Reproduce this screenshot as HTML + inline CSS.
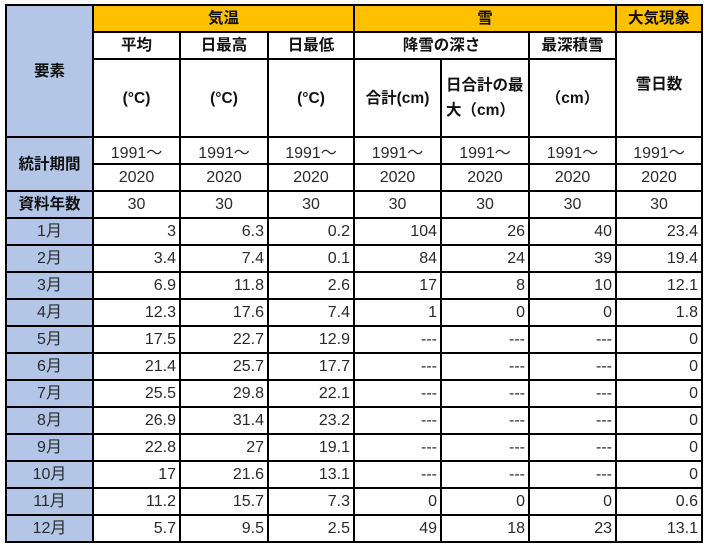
<!DOCTYPE html>
<html><head><meta charset="utf-8">
<style>
*{margin:0;padding:0;box-sizing:border-box}
html,body{width:707px;height:545px;background:#fff;overflow:hidden}
body{position:relative;font-family:"Liberation Sans","Noto Sans CJK JP",sans-serif;color:#2a2a2a}
.bg{position:absolute}
.l{position:absolute;background:#000}
.t{position:absolute;display:flex;align-items:center;justify-content:center;text-align:center;font-size:15.5px;font-weight:bold;color:#111;line-height:25px}
.n{position:absolute;display:flex;align-items:center;justify-content:center;font-size:16px;color:#2a2a2a}
.r{position:absolute;left:0;width:707px;height:27px}
.r span{position:absolute;top:0;height:27px;line-height:27px;text-align:right;padding-right:4px;font-size:16px;color:#2a2a2a}
.r .a{left:6px;width:87px;text-align:center;padding-right:0}
.b{left:93px;width:87px}.c{left:180px;width:88px}.d{left:268px;width:86px}
.e{left:354px;width:87px}.f{left:441px;width:88px}.g{left:529px;width:87px}.h{left:616px;width:86px}
</style></head><body>
<div class="bg" style="left:6px;top:5px;width:87px;height:537px;background:#B4C6E7"></div>
<div class="bg" style="left:93px;top:5px;width:609px;height:27px;background:#FFC000"></div>

<!-- header text -->
<div class="t" style="left:6px;top:5px;width:87px;height:132px">要素</div>
<div class="t" style="left:93px;top:5px;width:261px;height:27px">気温</div>
<div class="t" style="left:354px;top:5px;width:262px;height:27px">雪</div>
<div class="t" style="left:616px;top:5px;width:86px;height:27px">大気現象</div>
<div class="t" style="left:93px;top:32px;width:87px;height:27px">平均</div>
<div class="t" style="left:180px;top:32px;width:88px;height:27px">日最高</div>
<div class="t" style="left:268px;top:32px;width:86px;height:27px">日最低</div>
<div class="t" style="left:354px;top:32px;width:175px;height:27px">降雪の深さ</div>
<div class="t" style="left:529px;top:32px;width:87px;height:27px">最深積雪</div>
<div class="t" style="left:616px;top:32px;width:86px;height:105px">雪日数</div>
<div class="t" style="left:93px;top:59px;width:87px;height:78px">(°C)</div>
<div class="t" style="left:180px;top:59px;width:88px;height:78px">(°C)</div>
<div class="t" style="left:268px;top:59px;width:86px;height:78px">(°C)</div>
<div class="t" style="left:354px;top:59px;width:87px;height:78px">合計(cm)</div>
<div class="t" style="left:441px;top:59px;width:88px;height:78px;justify-content:flex-start;text-align:left;padding-left:5px">日合計の最<br>大（cm）</div>
<div class="t" style="left:529px;top:59px;width:87px;height:78px">（cm）</div>
<div class="t" style="left:6px;top:137px;width:87px;height:54px">統計期間</div>
<div class="t" style="left:6px;top:191px;width:87px;height:27px">資料年数</div>

<div class="n" style="left:93px;top:137px;width:87px;height:27px">1991～</div>
<div class="n" style="left:180px;top:137px;width:88px;height:27px">1991～</div>
<div class="n" style="left:268px;top:137px;width:86px;height:27px">1991～</div>
<div class="n" style="left:354px;top:137px;width:87px;height:27px">1991～</div>
<div class="n" style="left:441px;top:137px;width:88px;height:27px">1991～</div>
<div class="n" style="left:529px;top:137px;width:87px;height:27px">1991～</div>
<div class="n" style="left:616px;top:137px;width:86px;height:27px">1991～</div>

<div class="n" style="left:93px;top:164px;width:87px;height:27px">2020</div>
<div class="n" style="left:180px;top:164px;width:88px;height:27px">2020</div>
<div class="n" style="left:268px;top:164px;width:86px;height:27px">2020</div>
<div class="n" style="left:354px;top:164px;width:87px;height:27px">2020</div>
<div class="n" style="left:441px;top:164px;width:88px;height:27px">2020</div>
<div class="n" style="left:529px;top:164px;width:87px;height:27px">2020</div>
<div class="n" style="left:616px;top:164px;width:86px;height:27px">2020</div>

<div class="n" style="left:93px;top:191px;width:87px;height:27px">30</div>
<div class="n" style="left:180px;top:191px;width:88px;height:27px">30</div>
<div class="n" style="left:268px;top:191px;width:86px;height:27px">30</div>
<div class="n" style="left:354px;top:191px;width:87px;height:27px">30</div>
<div class="n" style="left:441px;top:191px;width:88px;height:27px">30</div>
<div class="n" style="left:529px;top:191px;width:87px;height:27px">30</div>
<div class="n" style="left:616px;top:191px;width:86px;height:27px">30</div>

<!-- data rows -->
<div class="r" style="top:218px"><span class="a">1月</span><span class="b">3</span><span class="c">6.3</span><span class="d">0.2</span><span class="e">104</span><span class="f">26</span><span class="g">40</span><span class="h">23.4</span></div>
<div class="r" style="top:245px"><span class="a">2月</span><span class="b">3.4</span><span class="c">7.4</span><span class="d">0.1</span><span class="e">84</span><span class="f">24</span><span class="g">39</span><span class="h">19.4</span></div>
<div class="r" style="top:272px"><span class="a">3月</span><span class="b">6.9</span><span class="c">11.8</span><span class="d">2.6</span><span class="e">17</span><span class="f">8</span><span class="g">10</span><span class="h">12.1</span></div>
<div class="r" style="top:299px"><span class="a">4月</span><span class="b">12.3</span><span class="c">17.6</span><span class="d">7.4</span><span class="e">1</span><span class="f">0</span><span class="g">0</span><span class="h">1.8</span></div>
<div class="r" style="top:326px"><span class="a">5月</span><span class="b">17.5</span><span class="c">22.7</span><span class="d">12.9</span><span class="e">---</span><span class="f">---</span><span class="g">---</span><span class="h">0</span></div>
<div class="r" style="top:353px"><span class="a">6月</span><span class="b">21.4</span><span class="c">25.7</span><span class="d">17.7</span><span class="e">---</span><span class="f">---</span><span class="g">---</span><span class="h">0</span></div>
<div class="r" style="top:380px"><span class="a">7月</span><span class="b">25.5</span><span class="c">29.8</span><span class="d">22.1</span><span class="e">---</span><span class="f">---</span><span class="g">---</span><span class="h">0</span></div>
<div class="r" style="top:407px"><span class="a">8月</span><span class="b">26.9</span><span class="c">31.4</span><span class="d">23.2</span><span class="e">---</span><span class="f">---</span><span class="g">---</span><span class="h">0</span></div>
<div class="r" style="top:434px"><span class="a">9月</span><span class="b">22.8</span><span class="c">27</span><span class="d">19.1</span><span class="e">---</span><span class="f">---</span><span class="g">---</span><span class="h">0</span></div>
<div class="r" style="top:461px"><span class="a">10月</span><span class="b">17</span><span class="c">21.6</span><span class="d">13.1</span><span class="e">---</span><span class="f">---</span><span class="g">---</span><span class="h">0</span></div>
<div class="r" style="top:488px"><span class="a">11月</span><span class="b">11.2</span><span class="c">15.7</span><span class="d">7.3</span><span class="e">0</span><span class="f">0</span><span class="g">0</span><span class="h">0.6</span></div>
<div class="r" style="top:515px"><span class="a">12月</span><span class="b">5.7</span><span class="c">9.5</span><span class="d">2.5</span><span class="e">49</span><span class="f">18</span><span class="g">23</span><span class="h">13.1</span></div>

<!-- horizontal lines -->
<div class="l" style="left:5px;top:4px;width:698px;height:2px"></div>
<div class="l" style="left:92px;top:31px;width:611px;height:2px"></div>
<div class="l" style="left:92px;top:58px;width:525px;height:2px"></div>
<div class="l" style="left:5px;top:136px;width:698px;height:2px"></div>
<div class="l" style="left:92px;top:163px;width:611px;height:2px"></div>
<div class="l" style="left:5px;top:190px;width:698px;height:2px"></div>
<div class="l" style="left:5px;top:217px;width:698px;height:2px"></div>
<div class="l" style="left:5px;top:244px;width:698px;height:2px"></div>
<div class="l" style="left:5px;top:271px;width:698px;height:2px"></div>
<div class="l" style="left:5px;top:298px;width:698px;height:2px"></div>
<div class="l" style="left:5px;top:325px;width:698px;height:2px"></div>
<div class="l" style="left:5px;top:352px;width:698px;height:2px"></div>
<div class="l" style="left:5px;top:379px;width:698px;height:2px"></div>
<div class="l" style="left:5px;top:406px;width:698px;height:2px"></div>
<div class="l" style="left:5px;top:433px;width:698px;height:2px"></div>
<div class="l" style="left:5px;top:460px;width:698px;height:2px"></div>
<div class="l" style="left:5px;top:487px;width:698px;height:2px"></div>
<div class="l" style="left:5px;top:514px;width:698px;height:2px"></div>
<div class="l" style="left:5px;top:541px;width:698px;height:2px"></div>

<!-- vertical lines -->
<div class="l" style="left:5px;top:4px;width:2px;height:539px"></div>
<div class="l" style="left:92px;top:4px;width:2px;height:539px"></div>
<div class="l" style="left:179px;top:31px;width:2px;height:512px"></div>
<div class="l" style="left:267px;top:31px;width:2px;height:512px"></div>
<div class="l" style="left:353px;top:4px;width:2px;height:539px"></div>
<div class="l" style="left:440px;top:58px;width:2px;height:485px"></div>
<div class="l" style="left:528px;top:31px;width:2px;height:512px"></div>
<div class="l" style="left:615px;top:4px;width:2px;height:539px"></div>
<div class="l" style="left:701px;top:4px;width:2px;height:539px"></div>
</body></html>
